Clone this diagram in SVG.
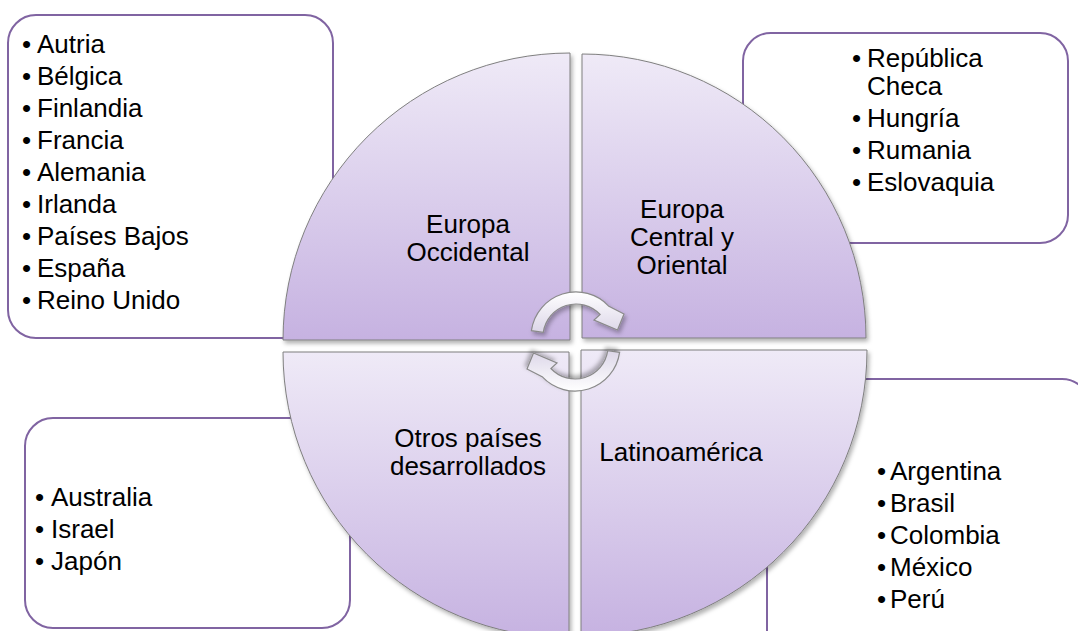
<svg xmlns="http://www.w3.org/2000/svg" width="1078" height="631" viewBox="0 0 1078 631">
  <defs>
    <linearGradient id="gq" x1="0" y1="0" x2="0" y2="1">
      <stop offset="0" stop-color="#efeaf7"/>
      <stop offset="1" stop-color="#c6b2e1"/>
    </linearGradient>
    <linearGradient id="ga" x1="0" y1="0" x2="0" y2="1">
      <stop offset="0" stop-color="#ffffff"/>
      <stop offset="1" stop-color="#dcd6e8"/>
    </linearGradient>
    <filter id="sh" x="-10%" y="-10%" width="125%" height="125%">
      <feDropShadow dx="2" dy="3" stdDeviation="2" flood-color="#000" flood-opacity="0.3"/>
    </filter>
    <path id="carrow" d="M 531.4,330.7 A 45 45 0 0 1 608.9,306.3 L 624,314 L 617.5,330 L 594,320 L 600.1,314.5 A 33 33 0 0 0 543.3,332.4 Z"/>
  </defs>
  <style>
    .box { fill: #ffffff; stroke: #8064a2; stroke-width: 2; }
    .quad { fill: url(#gq); stroke: #7f7f7f; stroke-width: 1; filter: url(#sh); }
    .arr { fill: url(#ga); stroke: #8a8a8a; stroke-width: 1.2; filter: url(#sh); }
    text { font-family: "Liberation Sans", Arial, sans-serif; font-size: 26px; fill: #000000; }
    .c { text-anchor: middle; }
  </style>
  <rect width="1078" height="631" fill="#ffffff"/>

  <g id="box-tl">
    <rect class="box" x="8" y="15" width="325" height="323" rx="28"/>
    <text x="22" y="53">•</text><text x="37" y="53">Autria</text>
    <text x="22" y="85">•</text><text x="37" y="85">Bélgica</text>
    <text x="22" y="117">•</text><text x="37" y="117">Finlandia</text>
    <text x="22" y="149">•</text><text x="37" y="149">Francia</text>
    <text x="22" y="181">•</text><text x="37" y="181">Alemania</text>
    <text x="22" y="213">•</text><text x="37" y="213">Irlanda</text>
    <text x="22" y="245">•</text><text x="37" y="245">Países Bajos</text>
    <text x="22" y="277">•</text><text x="37" y="277">España</text>
    <text x="22" y="309">•</text><text x="37" y="309">Reino Unido</text>
  </g>

  <g id="box-tr">
    <rect class="box" x="743" y="33" width="325" height="210" rx="28"/>
    <text x="852" y="67">•</text>
    <text x="867" y="67">República<tspan x="867" dy="28">Checa</tspan></text>
    <text x="852" y="127">•</text><text x="867" y="127">Hungría</text>
    <text x="852" y="159">•</text><text x="867" y="159">Rumania</text>
    <text x="852" y="191">•</text><text x="867" y="191">Eslovaquia</text>
  </g>

  <g id="box-bl">
    <rect class="box" x="25" y="418" width="325" height="210" rx="28"/>
    <text x="35" y="506">•</text><text x="51" y="506">Australia</text>
    <text x="35" y="538">•</text><text x="51" y="538">Israel</text>
    <text x="35" y="570">•</text><text x="51" y="570">Japón</text>
  </g>

  <g id="box-br">
    <rect class="box" x="767" y="379" width="323" height="323" rx="28"/>
    <text x="877" y="480">•</text><text x="890" y="480">Argentina</text>
    <text x="877" y="512">•</text><text x="890" y="512">Brasil</text>
    <text x="877" y="544">•</text><text x="890" y="544">Colombia</text>
    <text x="877" y="576">•</text><text x="890" y="576">México</text>
    <text x="877" y="608">•</text><text x="890" y="608">Perú</text>
  </g>

  <g id="quad-tl">
    <path class="quad" d="M 570,340 L 283,340 A 287 287 0 0 1 570,53 Z"/>
    <text class="c" x="468" y="232.5">Europa<tspan x="468" dy="28">Occidental</tspan></text>
  </g>

  <g id="quad-tr">
    <path class="quad" d="M 582,338 L 582,54 A 284 284 0 0 1 866,338 Z"/>
    <text class="c" x="682" y="218">Europa<tspan x="682" dy="28">Central y</tspan><tspan x="682" dy="28">Oriental</tspan></text>
  </g>

  <g id="quad-bl">
    <path class="quad" d="M 569,352 L 569,638 A 286 286 0 0 1 283,352 Z"/>
    <text class="c" x="468" y="446.5">Otros países<tspan x="468" dy="28">desarrollados</tspan></text>
  </g>

  <g id="quad-br">
    <path class="quad" d="M 581,350 L 867,350 A 286 286 0 0 1 581,636 Z"/>
    <text class="c" x="681" y="461">Latinoamérica</text>
  </g>

  <g id="connectors">
    <use href="#carrow" class="arr"/>
    <use href="#carrow" class="arr" transform="rotate(180 575.5 341.5)"/>
  </g>
</svg>
